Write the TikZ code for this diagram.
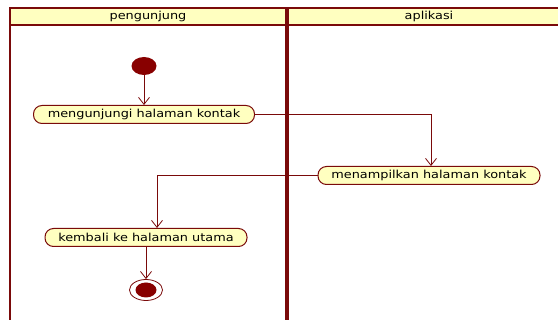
\documentclass[tikz,border=0pt]{standalone}
\usepackage{fontspec}
\setmainfont{DejaVu Sans}
\usetikzlibrary{arrows.meta,shapes.geometric}
\definecolor{maroon}{HTML}{7A0A0A}
\definecolor{darkfill}{HTML}{880000}
\definecolor{paleyellow}{HTML}{FFFFC0}
\definecolor{headyellow}{HTML}{FFFFC0}
\newcommand{\mylbl}[1]{\scalebox{1.17}[1]{#1}}
\tikzset{
  activity/.style={draw=maroon, line width=1pt, fill=paleyellow, rounded corners=8.5pt,
    minimum height=18pt, inner sep=0pt, font=\fontsize{11}{12}\selectfont},
  startnode/.style={ellipse, fill=darkfill, minimum width=25pt, minimum height=18pt, inner sep=0pt},
  endouter/.style={ellipse, draw=maroon, line width=0.8pt, fill=white, minimum width=33pt, minimum height=21pt, inner sep=0pt},
  endinner/.style={ellipse, fill=darkfill, minimum width=21pt, minimum height=15pt, inner sep=0pt},
  flow/.style={draw=maroon, line width=0.8pt, -{Straight Barb[length=7pt,width=11pt,line width=0.8pt]}},
  headtext/.style={font=\fontsize{11}{12}\selectfont, inner sep=0pt},
  laneline/.style={draw=maroon, line width=2pt},
  divider/.style={draw=maroon, line width=4pt},
}
\begin{document}
\begin{tikzpicture}[x=1pt,y=-1pt]
\useasboundingbox (0,0) rectangle (558,320);
\fill[white] (0,0) rectangle (558,320);
% header
\draw[draw=maroon, line width=1.5pt, fill=headyellow] (10,8) rectangle (560,25);
\draw[laneline] (10,8) -- (10,322);
\draw[divider] (287,8) -- (287,322);
\node[headtext] (h1) at (148,16.5) {\mylbl{pengunjung}};
\node[headtext] (h2) at (429,16.5) {\mylbl{aplikasi}};
% nodes
\node[startnode] (start) at (144,66) {};
\node[activity, minimum width=221pt] (a1) at (144,114.5) {\mylbl{mengunjungi halaman kontak}};
\node[activity, minimum width=222pt] (a2) at (429,175.5) {\mylbl{menampilkan halaman kontak}};
\node[activity, minimum width=202pt] (a3) at (146,237.5) {\mylbl{kembali ke halaman utama}};
\node[endouter] (endo) at (146,290) {};
\node[endinner] (endi) at (146,290) {};
% flows
\draw[flow] (start) -- (a1.north);
\draw[flow] (a1.east) -| ([xshift=2pt]a2.north);
\draw[flow] (a2.west) -| ([xshift=11pt]a3.north);
\draw[flow] (a3.south) -- (endo.north);
\end{tikzpicture}
\end{document}
